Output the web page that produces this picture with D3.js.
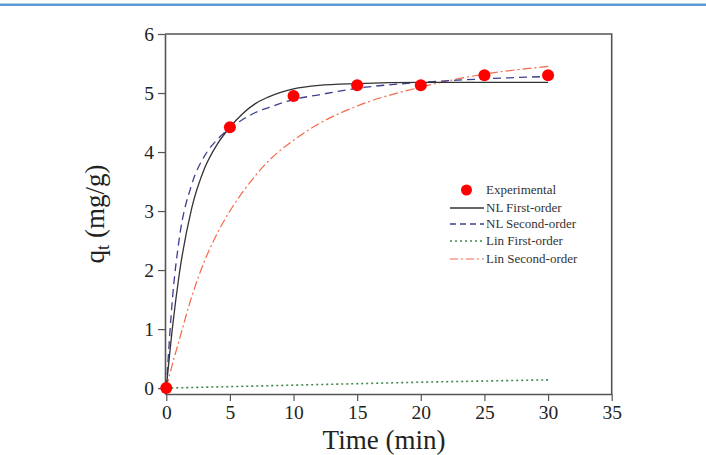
<!DOCTYPE html>
<html>
<head>
<meta charset="utf-8">
<script src="https://cdn.jsdelivr.net/npm/d3@7"></script>
<style>
  html, body { margin: 0; padding: 0; background: #fff; }
  svg { display: block; }
</style>
</head>
<body>
<svg id="chart" width="706" height="455"></svg>
<script>
// Experimental points
const expTime = [0, 5, 10, 15, 20, 25, 30];
const expQ    = [0, 4.42, 4.95, 5.13, 5.13, 5.30, 5.30];

// Fitted curves
const fitTime   = [0, 0.5, 1, 2, 3, 4, 5, 6, 7, 8, 10, 12, 15, 20, 25, 30];
const nlFirst   = [0, 1.05, 1.90, 3.05, 3.72, 4.13, 4.42, 4.65, 4.82, 4.93, 5.07, 5.13, 5.16, 5.18, 5.18, 5.18];
const nlSecond  = [0, 1.55, 2.50, 3.45, 3.93, 4.21, 4.40, 4.55, 4.67, 4.75, 4.89, 4.97, 5.08, 5.18, 5.24, 5.28];
const linSecond = [0, 0.42, 0.80, 1.55, 2.15, 2.62, 3.00, 3.32, 3.60, 3.84, 4.20, 4.48, 4.78, 5.10, 5.32, 5.45];
const linTime   = [0, 5, 10, 15, 20, 25, 30];
const linFirst  = [0, 0.025, 0.05, 0.075, 0.10, 0.12, 0.14];

const xTicks = [0, 5, 10, 15, 20, 25, 30, 35];
const yTicks = [0, 1, 2, 3, 4, 5, 6];

const legendLabels = ["Experimental", "NL First-order", "NL Second-order", "Lin First-order", "Lin Second-order"];

(function () {
  const svg = d3.select("#chart");
  const FONT = "'Liberation Serif', 'DejaVu Serif', serif";
  const AXIS = "#555";

  // blue rule at top
  svg.append("rect").attr("x", 0).attr("y", 3.5).attr("width", 706).attr("height", 2.5).attr("fill", "#5b9bd1");

  const x = d3.scaleLinear().domain([-0.1, 35]).range([165, 611.7]);
  const y = d3.scaleLinear().domain([-0.1, 6]).range([394, 34]);

  // frame (top + right)
  svg.append("path")
    .attr("d", `M${x(-0.1)},${y(6)}H${x(35)}V${y(-0.1)}`)
    .attr("fill", "none").attr("stroke", AXIS).attr("stroke-width", 1.6);

  const xAxis = svg.append("g").attr("transform", `translate(0,${y(-0.1)})`)
    .call(d3.axisBottom(x).tickValues(xTicks).tickFormat(d3.format("d")).tickSize(7).tickSizeOuter(0).tickPadding(4));
  const yAxis = svg.append("g").attr("transform", `translate(${x(-0.1)},0)`)
    .call(d3.axisLeft(y).tickValues(yTicks).tickFormat(d3.format("d")).tickSize(7).tickSizeOuter(0).tickPadding(4));
  [xAxis, yAxis].forEach(a => {
    a.select(".domain").attr("stroke", AXIS).attr("stroke-width", 1.6);
    a.selectAll(".tick line").attr("stroke", AXIS).attr("stroke-width", 1.2);
    a.selectAll(".tick text").attr("font-family", FONT).attr("font-size", 19.5).attr("fill", "#222");
  });

  // axis titles
  svg.append("text").attr("x", 384).attr("y", 449).attr("text-anchor", "middle")
    .attr("font-family", FONT).attr("font-size", 27).attr("fill", "#222").text("Time (min)");
  const yl = svg.append("text").attr("transform", "translate(104,214) rotate(-90)")
    .attr("text-anchor", "middle").attr("font-family", FONT).attr("font-size", 27).attr("fill", "#222");
  yl.append("tspan").text("q");
  yl.append("tspan").attr("font-size", 18).attr("dy", 5).text("t");
  yl.append("tspan").attr("dy", -5).text(" (mg/g)");

  const series = [
    { t: fitTime, q: linSecond, color: "#f4694a", dash: "9,3,2,3", width: 1.2 },
    { t: linTime, q: linFirst, color: "#3f8a4a", dash: "2,3", width: 1.6 },
    { t: fitTime, q: nlSecond, color: "#3d3f8f", dash: "8,5", width: 1.3 },
    { t: fitTime, q: nlFirst, color: "#333", dash: null, width: 1.3 }
  ];
  const line = d3.line().x(d => x(d[0])).y(d => y(d[1])).curve(d3.curveMonotoneX);
  series.forEach(s => {
    svg.append("path")
      .datum(s.t.map((t, i) => [t, s.q[i]]))
      .attr("d", line)
      .attr("fill", "none").attr("stroke", s.color).attr("stroke-width", s.width)
      .attr("stroke-dasharray", s.dash);
  });

  svg.selectAll("circle.exp")
    .data(expTime.map((t, i) => [t, expQ[i]]))
    .join("circle").attr("class", "exp")
    .attr("cx", d => x(d[0])).attr("cy", d => y(d[1])).attr("r", 6)
    .attr("fill", "#ff0000");

  // legend
  const lgStyles = [
    null,
    { color: "#333", dash: null, width: 1.3 },
    { color: "#3d3f8f", dash: "6,4", width: 1.3 },
    { color: "#3f8a4a", dash: "2,3", width: 1.6 },
    { color: "#f4694a", dash: "8,3,2,3", width: 1.2 }
  ];
  const lg = svg.append("g");
  const rowY = [190, 208, 224, 241, 259];
  legendLabels.forEach((lab, i) => {
    if (i === 0) {
      lg.append("circle").attr("cx", 466.5).attr("cy", rowY[i]).attr("r", 5.5).attr("fill", "#ff0000");
    } else {
      const s = lgStyles[i];
      lg.append("line").attr("x1", 450).attr("x2", 484).attr("y1", rowY[i]).attr("y2", rowY[i])
        .attr("stroke", s.color).attr("stroke-width", s.width).attr("stroke-dasharray", s.dash);
    }
    lg.append("text").attr("x", 486).attr("y", rowY[i]).attr("dy", "0.33em")
      .attr("font-family", FONT).attr("font-size", 13).attr("fill", "#333").text(lab);
  });
})();
</script>
</body>
</html>
